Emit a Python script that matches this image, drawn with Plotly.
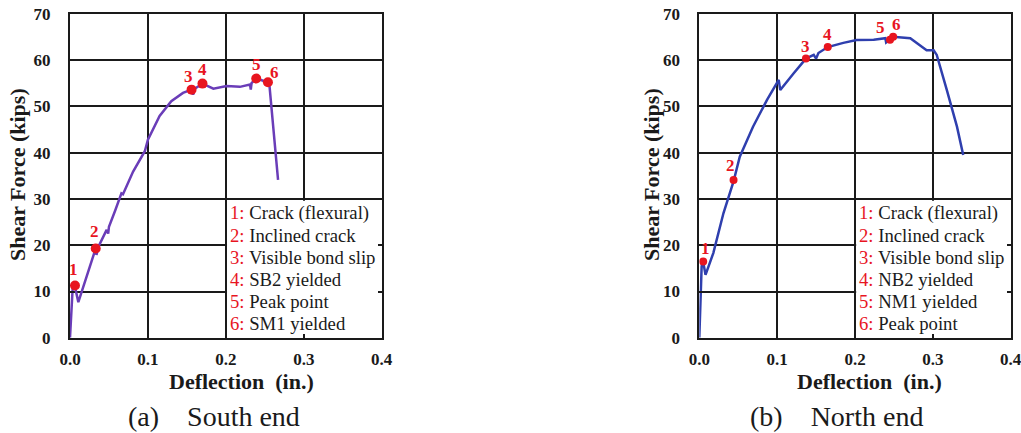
import plotly.graph_objects as go

# South end: load-deflection curve
south_defl = [0, 0.0035, 0.006, 0.0107, 0.033, 0.034, 0.036, 0.047, 0.049, 0.050, 0.058,
              0.064, 0.066, 0.068, 0.081, 0.096, 0.100, 0.115, 0.130, 0.145, 0.156, 0.158,
              0.160, 0.170, 0.184, 0.201, 0.218, 0.231, 0.232, 0.233, 0.239, 0.254, 0.256, 0.267]
south_force = [0, 11.0, 11.3, 7.7, 19.3, 17.9, 19.5, 23.3, 22.5, 24.0, 27.5,
               30.5, 31.2, 31.0, 35.9, 40.3, 42.8, 47.9, 51.1, 52.9, 53.6, 52.5,
               53.8, 54.9, 53.8, 54.4, 54.2, 54.7, 53.6, 55.0, 56.0, 55.2, 54.4, 34.1]

# South end: event points 1-6
south_evt_defl = [0.0064, 0.033, 0.156, 0.170, 0.239, 0.254]
south_evt_force = [11.3, 19.3, 53.6, 54.9, 56.0, 55.2]
south_events = ["Crack (flexural)", "Inclined crack", "Visible bond slip",
                "SB2 yielded", "Peak point", "SM1 yielded"]

# North end: load-deflection curve
north_defl = [0, 0.003, 0.0044, 0.008, 0.018, 0.031, 0.044, 0.052, 0.069, 0.087, 0.102,
              0.104, 0.121, 0.137, 0.147, 0.150, 0.153, 0.165, 0.185, 0.202, 0.224, 0.239,
              0.240, 0.245, 0.249, 0.271, 0.284, 0.292, 0.301, 0.305, 0.318, 0.331, 0.339]
north_force = [0, 15.4, 16.9, 13.6, 18.3, 26.9, 33.8, 39.1, 45.6, 51.4, 55.7,
               53.5, 57.1, 60.3, 61.1, 60.3, 61.5, 62.8, 63.7, 64.3, 64.4, 64.7,
               63.8, 64.4, 65.0, 64.7, 63.2, 62.1, 62.1, 61.1, 53.5, 45.6, 39.5]

# North end: event points 1-6
north_evt_defl = [0.005, 0.044, 0.137, 0.165, 0.245, 0.249]
north_evt_force = [16.5, 34.1, 60.3, 62.8, 64.4, 65.0]
north_events = ["Crack (flexural)", "Inclined crack", "Visible bond slip",
                "NB2 yielded", "NM1 yielded", "Peak point"]

x_ticks = [0.0, 0.1, 0.2, 0.3, 0.4]
y_ticks = [0, 10, 20, 30, 40, 50, 60, 70]

# label nudges (px) for the event numbers
south_lbl_dx = [-1, -1, -3, 0, 0, 7]
south_lbl_dy = [16, 17, 13, 14, 14, 10]
north_lbl_dx = [2, -3, 0, 0, -10, 3]
north_lbl_dy = [13, 14, 12, 13, 12, 12]

W, H = 1021, 433
SERIF = "Liberation Serif"
RED = "#e8151f"
GRID = "#1a1a1a"

def px_x(p):
    return p / W

def px_y(p):
    return 1 - p / H

panels = [
    dict(defl=south_defl, force=south_force, ex=south_evt_defl, ey=south_evt_force,
         names=south_events, color="#6a3db8", msize=10, dom=(70, 381.7),
         dx=south_lbl_dx, dy=south_lbl_dy, xa="x", ya="y",
         ytitle_x=18, xtitle_x=241, cap_x=213.5, cap="(a)\u2002\u2002South end",
         leg_x=228),
    dict(defl=north_defl, force=north_force, ex=north_evt_defl, ey=north_evt_force,
         names=north_events, color="#2f3fae", msize=8, dom=(699.3, 1010.7),
         dx=north_lbl_dx, dy=north_lbl_dy, xa="x2", ya="y2",
         ytitle_x=652, xtitle_x=869, cap_x=836.5, cap="(b)\u2002\u2002North end",
         leg_x=857),
]

fig = go.Figure()
annotations = []
shapes = []
legend_rows = [213, 235, 257, 279, 301, 323]

for i, p in enumerate(panels):
    fig.add_trace(go.Scatter(x=p["defl"], y=p["force"], mode="lines",
                             line=dict(color=p["color"], width=2.5),
                             xaxis=p["xa"], yaxis=p["ya"], showlegend=False))
    fig.add_trace(go.Scatter(x=p["ex"], y=p["ey"], mode="markers",
                             marker=dict(color=RED, size=p["msize"]),
                             xaxis=p["xa"], yaxis=p["ya"], showlegend=False))
    for k, (ex, ey) in enumerate(zip(p["ex"], p["ey"])):
        annotations.append(dict(x=ex, y=ey, xref=p["xa"], yref=p["ya"], text=f"<b>{k + 1}</b>",
                                showarrow=False, xshift=p["dx"][k], yshift=p["dy"][k],
                                font=dict(family=SERIF, size=17, color=RED)))
    # white panel behind the event list
    shapes.append(dict(type="rect", xref=p["xa"], yref=p["ya"], x0=0.2015, x1=0.4,
                       y0=0, y1=29.6, fillcolor="white", line=dict(width=0),
                       layer="between"))
    for k, name in enumerate(p["names"]):
        annotations.append(dict(x=px_x(p["leg_x"]), y=px_y(legend_rows[k]), xref="paper", yref="paper",
                                xanchor="left", yanchor="middle", showarrow=False,
                                text=f'<span style="color:{RED}">{k + 1}:</span> {name}',
                                font=dict(family=SERIF, size=18.7, color="#1a1a1a")))
    annotations.append(dict(x=px_x(p["ytitle_x"]), y=px_y(175), xref="paper", yref="paper",
                            text="<b>Shear Force (kips)</b>", textangle=-90, showarrow=False,
                            xanchor="center", yanchor="middle",
                            font=dict(family=SERIF, size=22, color="#1a1a1a")))
    annotations.append(dict(x=px_x(p["xtitle_x"]), y=px_y(381), xref="paper", yref="paper",
                            text="<b>Deflection  (in.)</b>", showarrow=False,
                            xanchor="center", yanchor="middle",
                            font=dict(family=SERIF, size=22, color="#1a1a1a")))
    annotations.append(dict(x=px_x(p["cap_x"]), y=px_y(416), xref="paper", yref="paper",
                            text=p["cap"], showarrow=False,
                            xanchor="center", yanchor="middle",
                            font=dict(family=SERIF, size=28, color="#1a1a1a")))

axis_common = dict(showgrid=True, gridcolor=GRID, gridwidth=1.5, showline=True,
                   linecolor=GRID, linewidth=2, mirror="ticks", ticks="inside",
                   ticklen=4, tickwidth=1.5, tickcolor=GRID, zeroline=False,
                   tickfont=dict(family=SERIF, size=17, color="#1a1a1a", weight="bold"),
                   fixedrange=True, automargin=False, ticklabeloverflow="allow")

ytop, ybot = px_y(13.7), px_y(337.8)
layout_axes = {}
for i, p in enumerate(panels):
    sfx = "" if i == 0 else "2"
    layout_axes["xaxis" + sfx] = dict(axis_common, domain=[px_x(p["dom"][0]), px_x(p["dom"][1])],
                                      range=[0, 0.4], tickvals=x_ticks,
                                      ticktext=[f"{v:.1f}" for v in x_ticks],
                                      anchor="y" + sfx, ticklabelstandoff=5)
    layout_axes["yaxis" + sfx] = dict(axis_common, domain=[ybot, ytop], range=[0, 70],
                                      tickvals=y_ticks, anchor="x" + sfx,
                                      ticklabelstandoff=14)

fig.update_layout(width=W, height=H, margin=dict(l=0, r=0, t=0, b=0),
                  plot_bgcolor="white", paper_bgcolor="white",
                  annotations=annotations, shapes=shapes, **layout_axes)

fig.write_html("out.html")
